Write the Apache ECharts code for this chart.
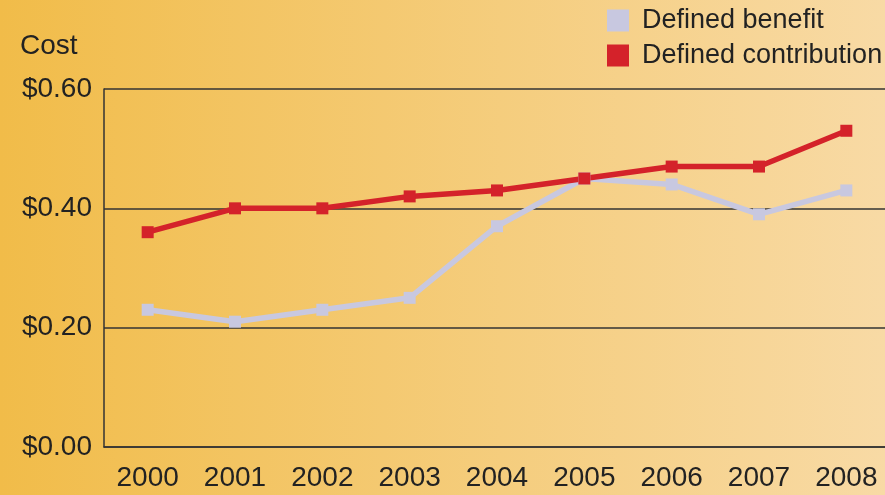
<!DOCTYPE html>
<html>
<head>
<meta charset="utf-8">
<script src="https://cdn.jsdelivr.net/npm/echarts@6/dist/echarts.min.js"></script>
<style>
  html, body { margin: 0; padding: 0; }
  #chartId { width: 885px; height: 495px; }
</style>
</head>
<body>
<div id="chartId"></div>
<script>
// data
var years = ['2000', '2001', '2002', '2003', '2004', '2005', '2006', '2007', '2008']
var definedBenefit = [0.23, 0.21, 0.23, 0.25, 0.37, 0.45, 0.44, 0.39, 0.43]
var definedContribution = [0.36, 0.40, 0.40, 0.42, 0.43, 0.45, 0.47, 0.47, 0.53]

var font = 'Liberation Sans, Arial, sans-serif'
var myLineChart = echarts.init(document.getElementById('chartId'))
myLineChart.setOption({
    backgroundColor: new echarts.graphic.LinearGradient(0, 0, 1, 0, [
        { offset: 0, color: '#F1BC49' },
        { offset: 1, color: '#F8DAA5' }
    ]),
    title: {
        text: 'Cost',
        left: 15,
        top: 27,
        textStyle: { fontFamily: font, fontSize: 28, fontWeight: 'normal', color: '#222' }
    },
    legend: {
        orient: 'vertical',
        left: 607,
        top: 7,
        padding: 0,
        itemWidth: 22,
        itemHeight: 22,
        itemGap: 8,
        icon: 'rect',
        textStyle: { fontFamily: font, fontSize: 27, color: '#222', padding: [0, 0, 0, 8] },
        data: ['Defined benefit', 'Defined contribution']
    },
    grid: {
        left: 104,
        top: 89,
        right: -5,
        bottom: 48,
        outerBoundsMode: 'none'
    },
    xAxis: {
        type: 'category',
        data: years,
        axisLine: { lineStyle: { color: '#333', width: 1.5 } },
        axisTick: { alignWithLabel: true, length: 8, lineStyle: { color: '#333', width: 1.5 } },
        axisLabel: { fontFamily: font, fontSize: 28, color: '#222', margin: 17 }
    },
    yAxis: {
        type: 'value',
        min: 0,
        max: 0.6,
        interval: 0.2,
        axisLine: { show: true, lineStyle: { color: '#333', width: 1.5 } },
        axisTick: { show: false },
        splitLine: { lineStyle: { color: '#333', width: 1.5 } },
        axisLabel: {
            fontFamily: font, fontSize: 28, color: '#222', margin: 12,
            formatter: function (v) { return '$' + v.toFixed(2) }
        }
    },
    series: [{
        name: 'Defined benefit',
        type: 'line',
        data: definedBenefit,
        symbol: 'rect',
        symbolSize: 12,
        color: '#C8C8E0',
        lineStyle: { color: '#C8C8E0', width: 5.5 },
        animation: false
    },
    {
        name: 'Defined contribution',
        type: 'line',
        data: definedContribution,
        symbol: 'rect',
        symbolSize: 12,
        color: '#D4222A',
        lineStyle: { color: '#D4222A', width: 5.5 },
        animation: false
    }]
})
</script>
</body>
</html>
